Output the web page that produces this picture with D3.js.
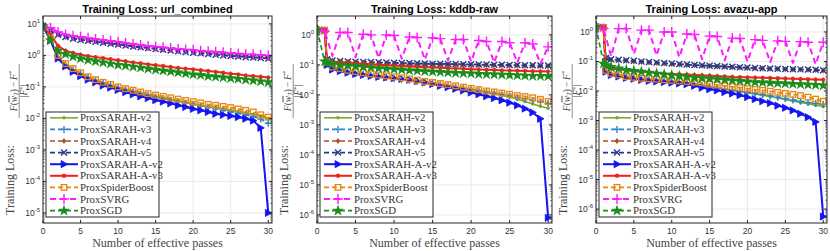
<!DOCTYPE html>
<html lang="en">
<head>
  <meta charset="UTF-8">
  <title>Training Loss</title>
  <script src="https://d3js.org/d3.v7.min.js"></script>
  <style>
    body { margin: 0; background: #fff; }
    svg { display: block; }
  </style>
</head>
<body>
  <div id="chart"></div>
  <script>
    // ---- data ----
    const seriesNames = ["ProxSARAH-v2", "ProxSARAH-v3", "ProxSARAH-v4", "ProxSARAH-v5",
      "ProxSARAH-A-v2", "ProxSARAH-A-v3", "ProxSpiderBoost", "ProxSVRG", "ProxSGD"];
    const xTicks = [0, 5, 10, 15, 20, 25, 30];

    const passes = [0, 1, 2, 3, 4, 5, 6, 7, 8, 9, 10, 11, 12, 13, 14, 15, 16, 17, 18, 19, 20,
      21, 22, 23, 24, 25, 26, 27, 28, 29, 30];
    const passesDrop = [0, 1, 1.3, 2, 3, 4, 5, 6, 7, 8, 9, 10, 11, 12, 13, 14, 15, 16, 17, 18, 19, 20,
      21, 22, 23, 24, 25, 26, 27, 28, 29, 30];

    // url_combined
    const urlV2 = [8.5, 3.2, 0.9, 0.5, 0.35, 0.26, 0.2, 0.16, 0.13, 0.11, 0.095, 0.082, 0.072, 0.063, 0.056, 0.05, 0.045, 0.04, 0.036, 0.032, 0.029, 0.026, 0.024, 0.022, 0.02, 0.018, 0.0165, 0.015, 0.0135, 0.012, 0.01];
    const urlV3 = [8.5, 3.2, 0.9, 0.5, 0.35, 0.26, 0.2, 0.16, 0.13, 0.11, 0.094, 0.08, 0.07, 0.061, 0.054, 0.048, 0.043, 0.038, 0.034, 0.03, 0.027, 0.024, 0.022, 0.02, 0.018, 0.016, 0.0145, 0.013, 0.0115, 0.0095, 0.007];
    const urlV4 = [8.5, 6.2, 4.6, 3.9, 3.5, 3.2, 2.95, 2.75, 2.55, 2.4, 2.25, 2.1, 1.95, 1.85, 1.75, 1.65, 1.55, 1.47, 1.4, 1.33, 1.27, 1.21, 1.15, 1.1, 1.05, 1.0, 0.96, 0.92, 0.89, 0.86, 0.83];
    const urlV5 = [8.5, 6, 4.5, 3.8, 3.4, 3.1, 2.9, 2.7, 2.5, 2.35, 2.2, 2.05, 1.9, 1.8, 1.7, 1.6, 1.5, 1.42, 1.35, 1.28, 1.22, 1.16, 1.1, 1.05, 1.0, 0.95, 0.92, 0.88, 0.85, 0.82, 0.8];
    const urlAV2 = [8.5, 3, 0.8, 0.45, 0.3, 0.22, 0.17, 0.14, 0.11, 0.095, 0.08, 0.068, 0.058, 0.05, 0.044, 0.038, 0.034, 0.03, 0.026, 0.023, 0.02, 0.018, 0.016, 0.014, 0.013, 0.012, 0.011, 0.0098, 0.0085, 0.005, 0.00001];
    const urlAV3 = [8.5, 4.5, 2.0, 1.4, 1.2, 1.05, 0.95, 0.88, 0.82, 0.76, 0.7, 0.65, 0.6, 0.56, 0.52, 0.49, 0.46, 0.43, 0.4, 0.38, 0.36, 0.34, 0.32, 0.3, 0.28, 0.26, 0.25, 0.23, 0.22, 0.21, 0.2];
    const urlSpider = [8.5, 3.5, 1.0, 0.55, 0.38, 0.28, 0.21, 0.17, 0.14, 0.12, 0.1, 0.088, 0.078, 0.069, 0.061, 0.055, 0.05, 0.045, 0.041, 0.037, 0.034, 0.031, 0.028, 0.026, 0.024, 0.022, 0.02, 0.018, 0.016, 0.013, 0.011];
    const urlSVRG = [8.5, 7.5, 5.5, 4.6, 4.2, 3.9, 3.6, 3.3, 3.1, 2.9, 2.7, 2.5, 2.3, 2.15, 2.0, 1.9, 1.8, 1.7, 1.6, 1.55, 1.5, 1.4, 1.35, 1.3, 1.25, 1.2, 1.15, 1.1, 1.08, 1.05, 1.0];
    const urlSGD = [8.5, 3.0, 1.4, 1.1, 0.92, 0.8, 0.72, 0.65, 0.6, 0.55, 0.5, 0.47, 0.44, 0.41, 0.38, 0.35, 0.33, 0.31, 0.29, 0.27, 0.25, 0.24, 0.22, 0.21, 0.2, 0.19, 0.18, 0.17, 0.16, 0.15, 0.14];

    // kddb-raw
    const kddbV2 = [1.5, 1.4, 0.11, 0.075, 0.066, 0.058, 0.052, 0.048, 0.044, 0.041, 0.038, 0.035, 0.033, 0.031, 0.028, 0.026, 0.024, 0.022, 0.02, 0.018, 0.0165, 0.015, 0.0135, 0.012, 0.011, 0.0098, 0.0085, 0.0072, 0.006, 0.005, 0.0042, 0.0036];
    const kddbV3 = [1.5, 1.4, 0.11, 0.075, 0.066, 0.058, 0.052, 0.048, 0.044, 0.041, 0.038, 0.035, 0.033, 0.031, 0.028, 0.026, 0.024, 0.022, 0.02, 0.018, 0.0165, 0.015, 0.0137, 0.0125, 0.0113, 0.0102, 0.0092, 0.0082, 0.0073, 0.0065, 0.0058, 0.0052];
    const kddbV4 = [1.5, 1.45, 0.15, 0.135, 0.13, 0.126, 0.123, 0.12, 0.118, 0.116, 0.114, 0.112, 0.11, 0.109, 0.108, 0.107, 0.106, 0.105, 0.104, 0.103, 0.102, 0.101, 0.1, 0.099, 0.098, 0.097, 0.096, 0.095, 0.094, 0.093, 0.092, 0.091];
    const kddbV5 = [1.5, 1.45, 0.155, 0.14, 0.135, 0.13, 0.128, 0.126, 0.124, 0.122, 0.12, 0.118, 0.116, 0.115, 0.113, 0.112, 0.11, 0.109, 0.108, 0.107, 0.106, 0.105, 0.104, 0.103, 0.102, 0.101, 0.1, 0.099, 0.098, 0.097, 0.096, 0.095];
    const kddbAV2 = [1.5, 1.4, 0.1, 0.07, 0.062, 0.055, 0.05, 0.046, 0.043, 0.04, 0.038, 0.036, 0.034, 0.032, 0.029, 0.026, 0.023, 0.02, 0.018, 0.016, 0.014, 0.012, 0.0105, 0.009, 0.0078, 0.0066, 0.0055, 0.0045, 0.0035, 0.0026, 0.0016, 0.0000008];
    const kddbAV3 = [1.5, 1.45, 0.14, 0.13, 0.125, 0.12, 0.115, 0.11, 0.106, 0.102, 0.098, 0.095, 0.092, 0.089, 0.086, 0.084, 0.082, 0.08, 0.078, 0.076, 0.074, 0.072, 0.07, 0.069, 0.068, 0.066, 0.065, 0.064, 0.063, 0.062, 0.061, 0.06];
    const kddbSpider = [1.5, 1.4, 0.12, 0.085, 0.075, 0.066, 0.06, 0.055, 0.05, 0.046, 0.043, 0.04, 0.037, 0.034, 0.031, 0.028, 0.026, 0.024, 0.022, 0.02, 0.018, 0.0165, 0.015, 0.0135, 0.0125, 0.0115, 0.0105, 0.0095, 0.0088, 0.008, 0.007, 0.006];
    const kddbSVRG = [1.5, 1.3, 0.2, 1.2, 1.2, 0.18, 1.05, 1.0, 0.17, 1.0, 0.95, 0.16, 0.85, 0.82, 0.15, 0.8, 0.75, 0.14, 0.7, 0.7, 0.13, 0.65, 0.6, 0.12, 0.6, 0.55, 0.12, 0.55, 0.5, 0.11, 0.4];
    const kddbSGD = [1.5, 0.13, 0.12, 0.11, 0.1, 0.095, 0.09, 0.086, 0.082, 0.078, 0.075, 0.072, 0.069, 0.066, 0.064, 0.062, 0.06, 0.058, 0.056, 0.054, 0.053, 0.052, 0.05, 0.049, 0.048, 0.047, 0.046, 0.045, 0.044, 0.043, 0.043, 0.042];

    // avazu-app
    const avazuV2 = [1.5, 1.4, 0.048, 0.038, 0.033, 0.03, 0.028, 0.026, 0.024, 0.023, 0.022, 0.021, 0.02, 0.019, 0.017, 0.0155, 0.014, 0.0128, 0.0115, 0.0105, 0.0095, 0.0087, 0.008, 0.0072, 0.0065, 0.0058, 0.0052, 0.0046, 0.0041, 0.0037, 0.0033, 0.003];
    const avazuV3 = [1.5, 1.4, 0.048, 0.038, 0.033, 0.03, 0.028, 0.026, 0.024, 0.023, 0.022, 0.021, 0.02, 0.019, 0.017, 0.0155, 0.014, 0.0128, 0.0116, 0.0106, 0.0097, 0.0089, 0.0082, 0.0075, 0.0068, 0.0062, 0.0056, 0.005, 0.0045, 0.0041, 0.0038, 0.0035];
    const avazuV4 = [1.5, 1.45, 0.125, 0.115, 0.11, 0.105, 0.1, 0.096, 0.092, 0.088, 0.085, 0.082, 0.079, 0.076, 0.074, 0.072, 0.07, 0.068, 0.066, 0.064, 0.062, 0.06, 0.059, 0.058, 0.057, 0.056, 0.055, 0.054, 0.053, 0.052, 0.051, 0.049];
    const avazuV5 = [1.5, 1.45, 0.13, 0.12, 0.115, 0.11, 0.105, 0.1, 0.096, 0.092, 0.088, 0.085, 0.082, 0.079, 0.076, 0.074, 0.072, 0.07, 0.068, 0.066, 0.064, 0.062, 0.06, 0.059, 0.058, 0.057, 0.056, 0.055, 0.054, 0.053, 0.052, 0.05];
    const avazuAV2 = [1.5, 1.4, 0.045, 0.035, 0.031, 0.028, 0.026, 0.024, 0.022, 0.021, 0.02, 0.019, 0.018, 0.017, 0.015, 0.013, 0.0115, 0.0105, 0.0092, 0.0082, 0.0072, 0.0062, 0.0053, 0.0045, 0.0039, 0.0032, 0.0027, 0.0022, 0.0017, 0.0013, 0.0009, 0.00000056];
    const avazuAV3 = [1.5, 1.45, 0.065, 0.058, 0.054, 0.05, 0.047, 0.045, 0.043, 0.041, 0.039, 0.038, 0.037, 0.036, 0.035, 0.034, 0.033, 0.032, 0.031, 0.03, 0.0295, 0.029, 0.0285, 0.028, 0.0275, 0.027, 0.0265, 0.026, 0.0255, 0.025, 0.0245, 0.024];
    const avazuSpider = [1.5, 1.4, 0.05, 0.04, 0.035, 0.031, 0.029, 0.027, 0.026, 0.025, 0.024, 0.023, 0.022, 0.021, 0.02, 0.019, 0.017, 0.016, 0.015, 0.014, 0.013, 0.012, 0.0112, 0.0105, 0.0098, 0.009, 0.0083, 0.0076, 0.007, 0.0062, 0.0053, 0.0045];
    const avazuSVRG = [1.5, 1.3, 0.15, 1.3, 1.3, 0.18, 1.15, 1.15, 0.16, 1.0, 1.0, 0.14, 0.85, 0.82, 0.12, 0.72, 0.7, 0.11, 0.62, 0.6, 0.1, 0.55, 0.52, 0.095, 0.5, 0.48, 0.09, 0.47, 0.45, 0.08, 0.45];
    const avazuSGD = [1.5, 0.085, 0.075, 0.065, 0.058, 0.052, 0.048, 0.045, 0.042, 0.039, 0.036, 0.034, 0.032, 0.03, 0.028, 0.027, 0.026, 0.025, 0.024, 0.023, 0.022, 0.021, 0.02, 0.0195, 0.019, 0.0185, 0.018, 0.0175, 0.017, 0.0165, 0.016, 0.0155];

    // ---- styles / layout ----
    const styles = [
      { color: "#77ac30", dash: null, width: 1.6, marker: "circle", size: 1.8 },
      { color: "#2a86c8", dash: "5,3", width: 1.6, marker: "plus", size: 3.5 },
      { color: "#a4522a", dash: "5,3", width: 1.6, marker: "diamond", size: 3 },
      { color: "#22398c", dash: "5,3", width: 1.6, marker: "cross", size: 3 },
      { color: "#1414f2", dash: null, width: 2, marker: "triangle", size: 3.6 },
      { color: "#ff1a1a", dash: null, width: 2, marker: "asterisk", size: 2.2 },
      { color: "#e8860c", dash: "5,3", width: 1.6, marker: "square", size: 2.8 },
      { color: "#ff1aff", dash: "6,4", width: 2, marker: "plus", size: 5 },
      { color: "#1c8c1c", dash: "5,3", width: 1.6, marker: "star", size: 5.2 }
    ];

    const panels = [
      { title: "Training Loss: url_combined", left: 43, right: 272, yLo: -5.32, yHi: 1.25,
        yTicks: [-5, -4, -3, -2, -1, 0, 1],
        xs: [passes, passes, passes, passes, passes, passes, passes, passes, passes],
        ys: [urlV2, urlV3, urlV4, urlV5, urlAV2, urlAV3, urlSpider, urlSVRG, urlSGD] },
      { title: "Training Loss: kddb-raw", left: 317, right: 552, yLo: -6.27, yHi: 0.63,
        yTicks: [-6, -5, -4, -3, -2, -1, 0],
        xs: [passesDrop, passesDrop, passesDrop, passesDrop, passesDrop, passesDrop, passesDrop, passes, passesDrop],
        ys: [kddbV2, kddbV3, kddbV4, kddbV5, kddbAV2, kddbAV3, kddbSpider, kddbSVRG, kddbSGD] },
      { title: "Training Loss: avazu-app", left: 596, right: 827, yLo: -6.47, yHi: 0.54,
        yTicks: [-6, -5, -4, -3, -2, -1, 0],
        xs: [passesDrop, passesDrop, passesDrop, passesDrop, passesDrop, passesDrop, passesDrop, passes, passesDrop],
        ys: [avazuV2, avazuV3, avazuV4, avazuV5, avazuAV2, avazuAV3, avazuSpider, avazuSVRG, avazuSGD] }
    ];

    const plotTop = 16, plotBottom = 223;
    const svg = d3.select("#chart").append("svg").attr("width", 830).attr("height", 251);
    const sans = "'Liberation Sans', Arial, sans-serif";
    const serif = "'Liberation Serif', 'Times New Roman', serif";

    function drawMarker(g, st) {
      const s = st.size, c = st.color;
      switch (st.marker) {
        case "circle":
          g.append("circle").attr("r", s).attr("fill", c); break;
        case "plus":
          g.append("path").attr("d", `M${-s},0H${s}M0,${-s}V${s}`).attr("stroke", c).attr("stroke-width", 1.4).attr("fill", "none"); break;
        case "cross":
          g.append("path").attr("d", `M${-s},${-s}L${s},${s}M${-s},${s}L${s},${-s}`).attr("stroke", c).attr("stroke-width", 1.4).attr("fill", "none"); break;
        case "diamond":
          g.append("path").attr("d", `M0,${-s}L${s * 0.75},0L0,${s}L${-s * 0.75},0Z`).attr("fill", c); break;
        case "triangle":
          g.append("path").attr("d", `M${-s * 0.8},${-s}L${s},0L${-s * 0.8},${s}Z`).attr("fill", c).attr("stroke", c).attr("stroke-width", 0.8); break;
        case "asterisk":
          g.append("path").attr("d", `M${-s},0H${s}M0,${-s}V${s}M${-s * 0.7},${-s * 0.7}L${s * 0.7},${s * 0.7}M${-s * 0.7},${s * 0.7}L${s * 0.7},${-s * 0.7}`)
            .attr("stroke", c).attr("stroke-width", 1.1).attr("fill", "none"); break;
        case "square":
          g.append("rect").attr("x", -s).attr("y", -s).attr("width", 2 * s).attr("height", 2 * s)
            .attr("fill", "none").attr("stroke", c).attr("stroke-width", 1.3); break;
        case "star":
          g.append("path").attr("d", d3.symbol().type(d3.symbolStar).size(s * s * 1.6)()).attr("fill", c); break;
      }
    }

    panels.forEach((p, pi) => {
      const x = d3.scaleLinear().domain([0, 30.5]).range([p.left, p.right]);
      const y = d3.scaleLog().domain([Math.pow(10, p.yLo), Math.pow(10, p.yHi)]).range([plotBottom, plotTop]);
      const g = svg.append("g");
      const clipId = "clip" + pi;
      svg.append("clipPath").attr("id", clipId).append("rect")
        .attr("x", p.left).attr("y", plotTop).attr("width", p.right - p.left).attr("height", plotBottom - plotTop);

      // grid
      g.selectAll(".gx").data(xTicks).enter().append("line")
        .attr("x1", d => x(d)).attr("x2", d => x(d)).attr("y1", plotTop).attr("y2", plotBottom)
        .attr("stroke", "#e3e3e3").attr("stroke-width", 0.8);
      g.selectAll(".gy").data(p.yTicks).enter().append("line")
        .attr("x1", p.left).attr("x2", p.right).attr("y1", d => y(Math.pow(10, d))).attr("y2", d => y(Math.pow(10, d)))
        .attr("stroke", "#e3e3e3").attr("stroke-width", 0.8);

      // series
      const plot = g.append("g").attr("clip-path", `url(#${clipId})`);
      p.ys.forEach((vals, si) => {
        const st = styles[si];
        const pts = vals.map((v, i) => [p.xs[si][i], v]);
        const sg = plot.append("g");
        sg.append("path").datum(pts)
          .attr("d", d3.line().x(d => x(d[0])).y(d => y(d[1])))
          .attr("fill", "none").attr("stroke", st.color).attr("stroke-width", st.width)
          .attr("stroke-dasharray", st.dash).attr("stroke-linejoin", "round");
        // ProxSVRG only marks the outer-loop points, not the dips
        const marked = pts.filter((d, i) => si !== 7 || !(i > 0 && i < pts.length - 1 && d[1] < pts[i - 1][1] && d[1] < pts[i + 1][1]));
        marked.forEach(d => {
          const mg = sg.append("g").attr("transform", `translate(${x(d[0])},${y(d[1])})`);
          drawMarker(mg, st);
        });
      });

      // box
      g.append("rect").attr("x", p.left).attr("y", plotTop).attr("width", p.right - p.left).attr("height", plotBottom - plotTop)
        .attr("fill", "none").attr("stroke", "#262626").attr("stroke-width", 1);

      // x ticks (inside, bottom and top)
      xTicks.forEach(t => {
        g.append("line").attr("x1", x(t)).attr("x2", x(t)).attr("y1", plotBottom).attr("y2", plotBottom - 3).attr("stroke", "#262626");
        g.append("line").attr("x1", x(t)).attr("x2", x(t)).attr("y1", plotTop).attr("y2", plotTop + 3).attr("stroke", "#262626");
        g.append("text").attr("x", x(t)).attr("y", 234).attr("text-anchor", "middle")
          .attr("font-family", sans).attr("font-size", 8.5).attr("fill", "#333").text(t);
      });

      // y ticks, major and minor
      p.yTicks.forEach(e => {
        const yy = y(Math.pow(10, e));
        g.append("line").attr("x1", p.left).attr("x2", p.left + 3).attr("y1", yy).attr("y2", yy).attr("stroke", "#262626");
        g.append("line").attr("x1", p.right).attr("x2", p.right - 3).attr("y1", yy).attr("y2", yy).attr("stroke", "#262626");
        const t = g.append("text").attr("x", p.left - 3).attr("y", yy + 3).attr("text-anchor", "end")
          .attr("font-family", sans).attr("font-size", 8.5).attr("fill", "#333");
        t.append("tspan").text("10");
        t.append("tspan").attr("dy", -4).attr("font-size", 6).text(e);
      });
      for (let k = Math.floor(p.yLo); k <= Math.ceil(p.yHi); k++) {
        for (let m = 2; m <= 9; m++) {
          const v = m * Math.pow(10, k);
          if (Math.log10(v) < p.yLo || Math.log10(v) > p.yHi) continue;
          const yy = y(v);
          g.append("line").attr("x1", p.left).attr("x2", p.left + 1.8).attr("y1", yy).attr("y2", yy).attr("stroke", "#262626").attr("stroke-width", 0.6);
          g.append("line").attr("x1", p.right).attr("x2", p.right - 1.8).attr("y1", yy).attr("y2", yy).attr("stroke", "#262626").attr("stroke-width", 0.6);
        }
      }

      // title and axis labels
      g.append("text").attr("x", (p.left + p.right) / 2).attr("y", 13).attr("text-anchor", "middle")
        .attr("font-family", sans).attr("font-weight", "bold").attr("font-size", 11).attr("fill", "#000").text(p.title);
      g.append("text").attr("x", (p.left + p.right) / 2).attr("y", 247).attr("text-anchor", "middle")
        .attr("font-family", serif).attr("font-size", 12).attr("fill", "#444").text("Number of effective passes");

      const yl = g.append("g").attr("transform", `translate(${p.left - 29},215) rotate(-90)`)
        .attr("font-family", serif).attr("fill", "#444");
      yl.append("text").attr("x", 0).attr("y", 0).attr("font-size", 12).text("Training Loss:");
      const fc = 124;
      const num = yl.append("text").attr("x", fc).attr("y", 2.5).attr("text-anchor", "middle").attr("font-size", 9.5);
      num.append("tspan").attr("font-style", "italic").text("F");
      num.append("tspan").text("(");
      num.append("tspan").attr("font-style", "italic").style("text-decoration", "overline").text("w");
      num.append("tspan").attr("font-style", "italic").attr("font-size", 6.5).attr("dy", 1.5).text("T");
      num.append("tspan").attr("dy", -1.5).text(")\u2009\u2212\u2009");
      num.append("tspan").attr("font-style", "italic").text("F");
      num.append("tspan").attr("font-size", 6.5).attr("dy", -3.5).text("*");
      yl.append("line").attr("x1", fc - 27).attr("x2", fc + 27).attr("y1", 5.2).attr("y2", 5.2)
        .attr("stroke", "#444").attr("stroke-width", 0.6);
      const den = yl.append("text").attr("x", fc).attr("y", 13).attr("text-anchor", "middle").attr("font-size", 9.5);
      den.append("tspan").text("|");
      den.append("tspan").attr("font-style", "italic").text("F");
      den.append("tspan").attr("font-size", 6.5).attr("dy", -3.5).text("*");
      den.append("tspan").attr("dy", 3.5).text("|");

      // legend
      const lx = p.left + 3, ly = 112;
      const lg = g.append("g");
      lg.append("rect").attr("x", lx).attr("y", ly).attr("width", 113).attr("height", 105)
        .attr("fill", "#fff").attr("stroke", "#262626").attr("stroke-width", 1);
      seriesNames.forEach((name, si) => {
        const st = styles[si];
        const yy = ly + 5.8 + si * 11.6;
        lg.append("line").attr("x1", lx + 4).attr("x2", lx + 32).attr("y1", yy).attr("y2", yy)
          .attr("stroke", st.color).attr("stroke-width", st.width).attr("stroke-dasharray", st.dash);
        drawMarker(lg.append("g").attr("transform", `translate(${lx + 18},${yy})`), st);
        lg.append("text").attr("x", lx + 34).attr("y", yy + 3.5)
          .attr("font-family", serif).attr("font-size", 10.8).attr("fill", "#333").text(name);
      });
    });
  </script>
</body>
</html>
